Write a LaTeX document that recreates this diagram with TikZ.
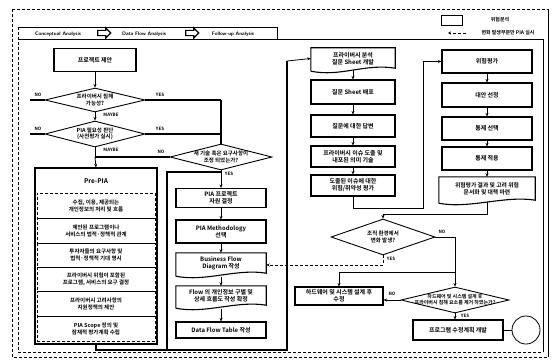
\documentclass[tikz,border=0pt]{standalone}
\usepackage{fontspec}
\setmainfont{Noto Sans CJK KR}[BoldFont={Noto Sans CJK KR Bold}]
\usetikzlibrary{shapes.geometric,shapes.arrows,arrows.meta,calc}
\newcommand{\docpath}[1]{\draw[line width=1.1pt] ($(#1.south west)+(0,2)$) -- (#1.north west) -- (#1.north east) -- ($(#1.south east)+(0,-1)$) .. controls ($(#1.south east)+(-30,-6)$) and ($(#1.south west)+(30,8)$) .. ($(#1.south west)+(0,2)$);}
\begin{document}
\begin{tikzpicture}[x=1pt,y=-1pt,
  font=\bfseries\fontsize{6}{7}\selectfont,
  box/.style={draw, line width=1.1pt, inner sep=1pt, align=center, minimum width=90pt},
  docbox/.style={inner sep=1pt, align=center, minimum width=90pt},
  dia/.style={diamond, draw, line width=0.9pt, inner sep=0pt},
  dtxt/.style={align=center, inner sep=0pt, font=\bfseries\fontsize{5.5}{6.5}\selectfont},
  item/.style={draw, densely dashed, line width=0.6pt, align=center, minimum width=118pt, inner sep=1pt, font=\bfseries\fontsize{5.5}{7}\selectfont},
  conn/.style={line width=0.8pt},
  heavy/.style={line width=1.3pt},
  arr/.style={conn, -{Stealth[length=3.5pt,width=3pt]}},
  lbl/.style={inner sep=0pt, font=\bfseries\fontsize{4.5}{5}\selectfont},
  hdr/.style={inner sep=0pt, font=\sffamily\bfseries\fontsize{5}{6}\selectfont},
  harrow/.style={draw=black, fill=white, line width=1.2pt, single arrow, single arrow head extend=2.5pt, minimum height=13pt, minimum width=6pt, inner sep=1.5pt, font=\fontsize{2}{2}\selectfont}
]
\useasboundingbox (0,0) rectangle (553,361);
\fill[white] (0,0) rectangle (553,361);

% frames
\draw[densely dashed, line width=0.5pt] (12,9) rectangle (548,357);
\draw[line width=1pt] (548,9) -- (548,357);
\draw[line width=0.6pt] (18,27) -- (277,27) -- (277,39);
\draw[densely dashed, line width=0.5pt] (18,27) -- (18,352) -- (543,352);
\draw[line width=0.6pt] (18,39) -- (543,39) -- (543,352);

% header
\node[hdr] (h1) at (58,34) {Conceptual Analysis};
\node[harrow] (ha1) at (103,33) {\phantom{x}};
\node[hdr] (h2) at (144,34) {Data Flow Analysis};
\node[harrow] (ha2) at (191,33) {\phantom{x}};
\node[hdr] (h3) at (233,34) {Follow-up Analysis};

% legend
\node[draw, line width=0.6pt, minimum width=21pt, minimum height=10pt, inner sep=0pt] (lg1) at (452,20) {};
\node[inner sep=0pt, font=\bfseries\fontsize{5}{6}\selectfont] (lg1t) at (500,20) {위험분석};
\coordinate (lg2a) at (448,33);
\coordinate (lg2b) at (466,33);
\draw[conn, densely dashed, -{Stealth[length=3pt,width=3pt]}] (lg2b) -- (lg2a);
\node[inner sep=0pt, font=\bfseries\fontsize{5}{6}\selectfont] (lg2t) at (508,33) {변화 발생부분만 PIA 실시};

% column 1
\node[box, minimum width=82pt, minimum height=23pt] (p0) at (95,60) {프로젝트 제안};
\node[dia, minimum width=100pt, minimum height=24pt] (d1) at (95,100) {};
\node[dtxt] (d1t) at (d1) {프라이버시 침해\\가능성?};
\node[dia, minimum width=100pt, minimum height=26pt] (d2) at (95,134) {};
\node[dtxt] (d2t) at (d2) {PIA 필요성 판단\\(사전평가 실시)};

\node[draw, line width=1.1pt, minimum width=122pt, minimum height=176pt, inner sep=0pt] (pre) at (96,256) {};
\node[inner sep=0pt, font=\bfseries\fontsize{6.5}{7}\selectfont] (pret) at (96,181) {Pre-PIA};
\node[item, minimum height=25pt] (i1) at (96,205.5) {수집, 이용, 제공되는\\개인정보의 처리 및 흐름};
\node[item, minimum height=25pt] (i2) at (96,230.5) {제안된 프로그램이나\\서비스의 법적·정책적 관계};
\node[item, minimum height=24pt] (i3) at (96,255) {투자자들의 요구사항 및\\법적·정책적 기대 명시};
\node[item, minimum height=24pt] (i4) at (96,279) {프라이버시 위험이 포함된\\프로그램, 서비스의 요구 결정};
\node[item, minimum height=25pt] (i5) at (96,303.5) {프라이버시 고려사항의\\지원정책의 제안};
\node[item, minimum height=25pt] (i6) at (96,328.5) {PIA Scope 정의 및\\잠재적 평가계획 수립};

\coordinate (no1) at (30,100);
\coordinate (no2) at (30,134);
\coordinate (y1) at (221,100);
\coordinate (y2) at (221,134);
\coordinate (j3) at (95,157);

\draw[arr] (p0) -- (d1);
\draw[arr] (d1) -- (d2);
\draw[heavy] (d1.west) -- (no1);
\draw[heavy] (d2.west) -- (no2);
\node[lbl] (lno1) at (38,95) {NO};
\node[lbl] (lno2) at (38,129) {NO};
\draw[heavy] (d1.east) -- (y1);
\draw[heavy] (d2.east) -- (y2);
\node[lbl] (lyes1) at (160,95) {YES};
\node[lbl] (lyes2) at (160,129) {YES};
\node[lbl] (lmb1) at (111,115) {MAYBE};
\node[lbl] (lmb2) at (111,150) {MAYBE};

% column 2
\node[dia, minimum width=102pt, minimum height=26pt] (d3) at (221,157) {};
\node[dtxt] (d3t) at (d3) {새 기술 혹은 요구사항이\\조정 되었는가?};
\draw[heavy] (y1) -- (d3.north);
\draw[conn] (d2.south) -- (j3);
\draw[arr] (j3) -- (pre.north);
\draw[heavy] (d3.west) -- (j3);
\node[lbl] (lno3) at (161,152) {NO};
\node[lbl] (lyes3) at (229,174) {YES};

\node[box, minimum height=19pt] (c2a) at (221,198) {PIA 프로젝트\\자원 결정};
\node[box, minimum height=23pt] (c2b) at (221,231.5) {PIA Methodology\\선택};
\node[docbox, minimum height=21pt] (c2c) at (221,263.5) {Business Flow\\Diagram 작성};
\docpath{c2c}
\node[docbox, minimum height=20pt] (c2d) at (221,296) {Flow 의 개인정보 구별 및\\상세 흐름도 작성 확정};
\docpath{c2d}
\node[box, minimum height=16pt] (c2e) at (221,330) {Data Flow Table 작성};

\draw[arr] (d3.south) -- (c2a.north);
\draw[arr] (c2a) -- (c2b);
\draw[arr] (c2b) -- (c2c);
\draw[arr] ($(c2c.south)+(0,3)$) -- (c2d.north);
\draw[arr] ($(c2d.south)+(0,3)$) -- (c2e.north);

% loop frame
\coordinate (f1) at (96,350);
\coordinate (f2) at (167,350);
\coordinate (f3) at (287,350);
\coordinate (f4) at (287,61);
\coordinate (f5) at (167,172);
\coordinate (f6) at (221,172);
\draw[heavy] (pre.south) -- (f1) -- (f3) -- (f4);
\draw[heavy] (f2) -- (f5) -- (f6);

% column 3
\node[docbox, minimum width=84pt, minimum height=21pt] (c3a) at (353,58.5) {프라이버시 분석\\질문 Sheet 개발};
\docpath{c3a}
\node[box, minimum width=84pt, minimum height=24pt] (c3b) at (353,92) {질문 Sheet 배포};
\node[box, minimum width=84pt, minimum height=22pt] (c3c) at (353,126) {질문에 대한 답변};
\node[box, minimum width=84pt, minimum height=21pt] (c3d) at (353,156.5) {프라이버시 이슈 도출 및\\내포된 의미 기술};
\node[box, minimum width=84pt, minimum height=21pt] (c3e) at (353,185.5) {도출된 이슈에 대한\\위험/취약성 평가};
\draw[arr] (f4) -- (c3a.west);
\draw[arr] ($(c3a.south)+(0,1)$) -- (c3b);
\draw[arr] (c3b) -- (c3c);
\draw[arr] (c3c) -- (c3d);
\draw[arr] (c3d) -- (c3e);

% column 4
\node[box, minimum height=23pt] (c4a) at (487,61.5) {위험평가};
\node[box, minimum height=24pt] (c4b) at (487,95) {대안 선정};
\node[box, minimum height=23pt] (c4c) at (487,128.5) {통제 선택};
\node[box, minimum height=23pt] (c4d) at (487,158.5) {통제 적용};
\node[docbox, minimum width=96pt, minimum height=24pt, font=\bfseries\fontsize{5.8}{7}\selectfont] (c4e) at (487,189) {위험평가 결과 및 고려 위험\\문서화 및 대책 마련};
\docpath{c4e}
\draw[arr] (c4a) -- (c4b);
\draw[arr] (c4b) -- (c4c);
\draw[arr] (c4c) -- (c4d);
\draw[arr] (c4d) -- (c4e);

\coordinate (g1) at (353,208);
\coordinate (g2) at (423,208);
\coordinate (g3) at (423,61.5);
\draw[conn] (c3e.south) -- (g1) -- (g2) -- (g3);
\draw[arr] (g3) -- (c4a.west);

% decision 4
\node[dia, minimum width=104pt, minimum height=36pt] (d4) at (383,237) {};
\node[dtxt] (d4t) at (d4) {조직 환경에서\\변화 발생?};
\coordinate (k1) at (487,214);
\coordinate (k2) at (383,214);
\draw[conn] ($(c4e.south)+(0,1)$) -- (k1) -- (k2);
\draw[arr] (k2) -- (d4.north);

\coordinate (e1) at (383,265);
\draw[conn, densely dashed] (d4.south) -- (e1);
\draw[conn, densely dashed, -{Stealth[length=3.5pt,width=3pt]}] (e1) -- (c2c.east |- e1);
\node[lbl] (lyes4) at (391,259) {YES};

% hardware box and decision 5
\node[box, minimum width=88pt, minimum height=18pt] (hw) at (339,296) {하드웨어 및 시스템 설계 후\\수정};
\node[dia, minimum width=108pt, minimum height=26pt] (d5) at (455,300) {};
\node[dtxt, font=\bfseries\fontsize{5}{6}\selectfont] (d5t) at (d5) {하드웨어 및 시스템 설계 후\\프라이버시 침해 요소를 제거 하였는가?};
\coordinate (m1) at (455,237);
\coordinate (m2) at (455,272);
\coordinate (m3) at (339,272);
\draw[conn] (d4.east) -- (m1);
\draw[arr] (m1) -- (d5.north);
\draw[conn] (m2) -- (m3);
\draw[arr] (m3) -- (hw.north);
\node[lbl] (lno4) at (442,232) {NO};
\draw[arr] (d5.west) -- (hw.east |- d5.west);
\node[lbl] (lno5) at (392,294) {NO};

\node[box, minimum width=90pt, minimum height=20pt] (pg) at (458,330) {프로그램 수정계획 개발};
\draw[arr] (d5.south) -- (d5.south |- pg.north);
\node[lbl] (lyes5) at (465,316) {YES};
\node[draw, circle, line width=0.8pt, minimum size=28pt, inner sep=0pt] (end) at (526,330) {};
\draw[conn] (pg.east) -- (end.west);
\end{tikzpicture}
\end{document}
